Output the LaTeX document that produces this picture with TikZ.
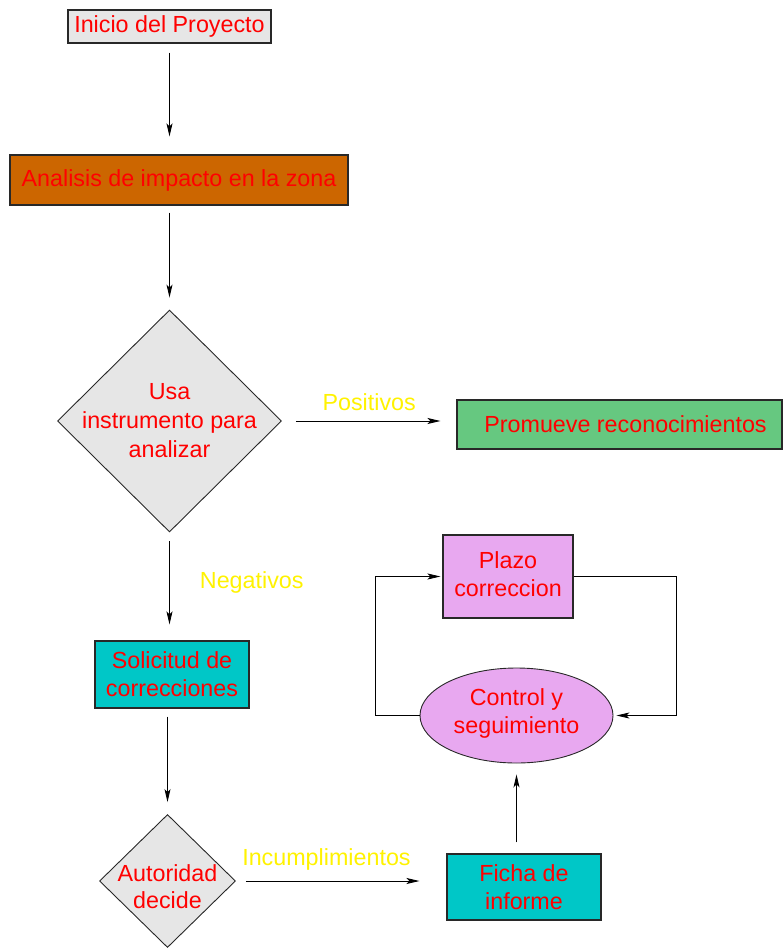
\documentclass[tikz,border=0pt]{standalone}
\usepackage{fontspec}
\setmainfont{Liberation Sans}
\usetikzlibrary{shapes.geometric,arrows.meta}

\definecolor{boxgray}{RGB}{230,230,230}
\definecolor{rust}{RGB}{204,102,0}
\definecolor{leaf}{RGB}{102,200,128}
\definecolor{teal}{RGB}{0,199,199}
\definecolor{lilac}{RGB}{232,168,240}
\definecolor{edge}{RGB}{40,40,40}

\tikzset{
  lbl/.style={font=\fontsize{23.3}{28}\selectfont, text=red, align=center, inner sep=0pt},
  cond/.style={font=\fontsize{23.3}{28}\selectfont, text=yellow, inner sep=0pt},
  stepbox/.style={draw=edge, line width=1.1pt, inner sep=0pt},
  choice/.style={diamond, draw=edge, line width=0.9pt, fill=boxgray, inner sep=0pt},
  flow/.style={draw=black, line width=0.9pt, -{Stealth[length=13pt,width=6pt,inset=3pt]}},
  loop/.style={draw=black, line width=0.8pt, -{Stealth[length=13pt,width=6pt,inset=3pt]}}
}

\begin{document}
\begin{tikzpicture}[x=1pt,y=-1pt]
\useasboundingbox (0,0) rectangle (783,949);

% Boxes and decisions
\node[stepbox, fill=boxgray, minimum width=203pt, minimum height=33pt] (ini) at (169.5,26.5) {};
\node[lbl] at (ini) {Inicio del Proyecto};

\node[stepbox, fill=rust, minimum width=338pt, minimum height=50pt] (ana) at (179,180) {};
\node[lbl] at (ana) {Analisis de impacto en la zona};

\node[choice, minimum width=224pt, minimum height=222pt] (d1) at (169.5,421) {};
\node[lbl, font=\fontsize{23.3}{29}\selectfont] at (d1) {Usa\\instrumento para\\analizar};

\node[stepbox, fill=leaf, minimum width=325pt, minimum height=49pt] (pro) at (619.5,424.5) {};
\node[lbl] at ([xshift=6pt]pro.center) {Promueve reconocimientos};

\node[stepbox, fill=teal, minimum width=154pt, minimum height=67pt] (sol) at (172,674.5) {};
\node[lbl] at (sol) {Solicitud de\\correcciones};

\node[choice, minimum width=136pt, minimum height=133pt] (d2) at (167.5,881) {};
\node[lbl, font=\fontsize{23.3}{27}\selectfont] at ([yshift=-6pt]d2.center) {Autoridad\\decide};

\node[stepbox, fill=teal, minimum width=154pt, minimum height=66pt] (fic) at (524,887) {};
\node[lbl] at (fic) {Ficha de\\informe};

\node[stepbox, fill=lilac, minimum width=130pt, minimum height=83pt] (pla) at (508,576.5) {};
\node[lbl] at ([yshift=2pt]pla.center) {Plazo\\correccion};

\node[ellipse, draw=edge, line width=0.9pt, fill=lilac, inner sep=0pt,
      minimum width=193pt, minimum height=95pt] (ctl) at (516.5,715.5) {};
\node[lbl] at ([yshift=2pt]ctl.center) {Control y\\seguimiento};

% Main flow
\draw[flow, shorten <=9pt, shorten >=18pt] (ini.south -| d1.north) -- (d1.north |- ana.north);
\draw[flow, shorten <=7pt, shorten >=12pt] (ana.south -| d1.north) -- (d1.north);
\draw[flow, shorten <=14pt, shorten >=16pt] (d1.east) -- (pro.west |- d1.east)
  node[cond, midway, above=10pt] {Positivos};
\draw[flow, shorten <=9pt, shorten >=16pt] (d1.south) -- (d1.south |- sol.north)
  node[cond, midway, right=30pt, yshift=4pt] {Negativos};
\draw[flow, shorten <=8pt, shorten >=12pt] (d2.north |- sol.south) -- (d2.north);
\draw[flow, shorten <=10pt, shorten >=27pt] (d2.east) -- (fic.west |- d2.east)
  node[cond, pos=0.43, above=10pt] {Incumplimientos};
\draw[flow, shorten <=11pt, shorten >=11pt] (fic.north -| ctl.south) -- (ctl.south);

% Follow-up loop
\draw[loop, shorten >=2pt] (ctl.west) -- ++(-44,0) |- (pla.west);
\draw[loop, shorten >=3pt] (pla.east) -- ++(103,0) |- (ctl.east);
\end{tikzpicture}
\end{document}
